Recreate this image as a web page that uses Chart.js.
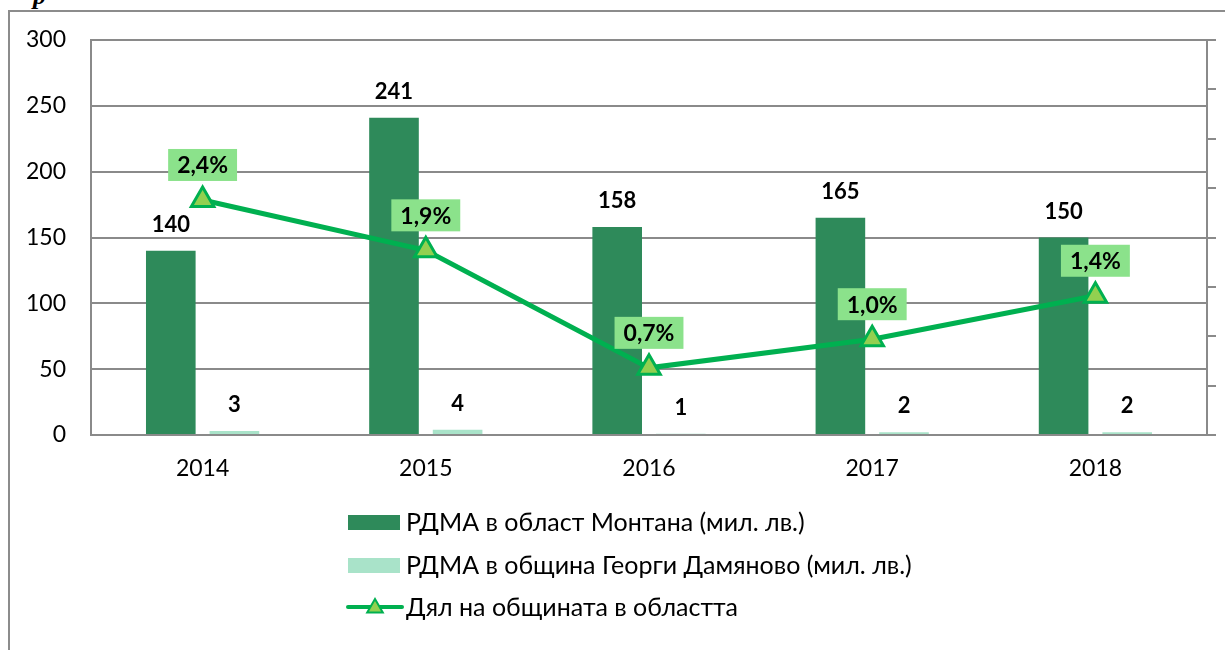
<!DOCTYPE html>
<html>
<head>
<meta charset="utf-8">
<script src="https://cdn.jsdelivr.net/npm/chart.js@4/dist/chart.umd.min.js"></script>
<style>
  body { margin: 0; background: #fff; overflow: hidden; }
  #frame { position: absolute; left: 8px; top: 10px; width: 1300px; height: 700px; border: 2px solid #8c8c8c; }
  #cut { position: absolute; left: 33px; top: -19px; font: italic bold 26px "Liberation Serif", serif; color: #000; }
  #chart { position: absolute; left: 0; top: 0; }
</style>
</head>
<body>
<div id="cut">р</div>
<div id="frame"></div>
<canvas id="chart" width="1225" height="650"></canvas>
<script>
let years = ['2014', '2015', '2016', '2017', '2018'];
let regionValues = [140, 241, 158, 165, 150];
let municipalityValues = [3, 4, 1, 2, 2];
let shareValues = [2.38, 1.87, 0.68, 0.97, 1.41];

let seriesNames = [
  'РДМА в област Монтана (мил. лв.)',
  'РДМА в община Георги Дамяново (мил. лв.)',
  'Дял на общината в областта'
];

let fontFamily = 'Lato, "Open Sans", sans-serif';
let darkGreen = '#2e8a5a';
let lightGreen = '#a9e3c9';
let lineGreen = '#00b050';
let markerGreen = '#92d050';
let boxGreen = '#8be28b';
let gridGrey = '#8a8a8a';

// data labels drawn over bars and line points
const valueLabels = {
  id: 'valueLabels',
  afterDatasetsDraw(chart) {
    let ctx = chart.ctx;
    ctx.save();
    ctx.font = 'bold 22px ' + fontFamily;
    ctx.textAlign = 'center';
    ctx.textBaseline = 'middle';
    [0, 1].forEach(i => {
      let meta = chart.getDatasetMeta(i);
      meta.data.forEach((bar, j) => {
        ctx.fillStyle = '#000';
        ctx.fillText(String(chart.data.datasets[i].data[j]), bar.x, bar.y - 26);
      });
    });
    ctx.font = 'bold 23px ' + fontFamily;
    let lineMeta = chart.getDatasetMeta(2);
    lineMeta.data.forEach((pt, j) => {
      let text = shareValues[j].toFixed(1).replace('.', ',') + '%';
      let w = ctx.measureText(text).width + 18;
      let h = 32;
      let cy = pt.y - 35;
      ctx.fillStyle = boxGreen;
      ctx.fillRect(pt.x - w / 2, cy - h / 2, w, h);
      ctx.fillStyle = '#000';
      ctx.fillText(text, pt.x, cy + 1);
    });
    ctx.restore();
  }
};

// vertical legend under the plot
const sideLegend = {
  id: 'sideLegend',
  afterDraw(chart) {
    let ctx = chart.ctx;
    let x0 = 348;
    let rows = [522, 565, 607];
    ctx.save();
    ctx.font = '25px ' + fontFamily;
    ctx.textBaseline = 'middle';
    ctx.textAlign = 'left';

    ctx.fillStyle = darkGreen;
    ctx.fillRect(x0, rows[0] - 7, 52, 15);
    ctx.fillStyle = lightGreen;
    ctx.fillRect(x0, rows[1] - 7, 52, 15);

    ctx.strokeStyle = lineGreen;
    ctx.lineWidth = 4;
    ctx.lineCap = 'round';
    ctx.beginPath();
    ctx.moveTo(x0, rows[2]);
    ctx.lineTo(x0 + 54, rows[2]);
    ctx.stroke();

    let r = 9, cx = x0 + 27, cy = rows[2] + 1;
    ctx.beginPath();
    ctx.moveTo(cx, cy - r);
    ctx.lineTo(cx + r * 0.866, cy + r / 2);
    ctx.lineTo(cx - r * 0.866, cy + r / 2);
    ctx.closePath();
    ctx.fillStyle = markerGreen;
    ctx.fill();
    ctx.lineWidth = 2;
    ctx.lineJoin = 'miter';
    ctx.stroke();

    ctx.fillStyle = '#000';
    seriesNames.forEach((name, i) => {
      ctx.fillText(name, x0 + 58, rows[i] + 1);
    });
    ctx.restore();
  }
};

let ctx = document.getElementById('chart').getContext('2d');

let chart = new Chart(ctx, {
  type: 'bar',
  data: {
    labels: years,
    datasets: [{
      label: seriesNames[0],
      data: regionValues,
      backgroundColor: darkGreen,
      yAxisID: 'y',
      order: 1
    }, {
      label: seriesNames[1],
      data: municipalityValues,
      backgroundColor: lightGreen,
      yAxisID: 'y',
      order: 2
    }, {
      type: 'line',
      label: seriesNames[2],
      data: shareValues,
      yAxisID: 'y1',
      borderColor: lineGreen,
      borderWidth: 5,
      pointStyle: 'triangle',
      pointRadius: 13,
      pointBackgroundColor: markerGreen,
      pointBorderColor: lineGreen,
      pointBorderWidth: 3,
      tension: 0,
      order: 0
    }]
  },
  options: {
    responsive: false,
    animation: false,
    categoryPercentage: 0.57,
    barPercentage: 0.78,
    layout: { padding: { top: 40, bottom: 165, left: 0, right: 0 } },
    plugins: {
      legend: { display: false },
      tooltip: { enabled: false }
    },
    scales: {
      x: {
        grid: { display: false },
        border: { color: gridGrey, width: 2 },
        ticks: { color: '#000', font: { family: fontFamily, size: 23 }, padding: 12 },
        afterFit: scale => { scale.height = 50; }
      },
      y: {
        position: 'left',
        min: 0,
        max: 300,
        ticks: { stepSize: 50, color: '#000', font: { family: fontFamily, size: 23 }, padding: 25 },
        grid: { color: gridGrey, lineWidth: 2, drawTicks: false },
        border: { color: gridGrey, width: 2 },
        afterFit: scale => { scale.width = 91; }
      },
      y1: {
        position: 'right',
        min: 0,
        max: 4,
        ticks: { stepSize: 0.5, callback: () => '' },
        grid: { drawOnChartArea: false, color: gridGrey, lineWidth: 2, tickLength: 9 },
        border: { color: gridGrey, width: 2 },
        afterFit: scale => { scale.width = 18; }
      }
    }
  },
  plugins: [valueLabels, sideLegend]
});
</script>
</body>
</html>
